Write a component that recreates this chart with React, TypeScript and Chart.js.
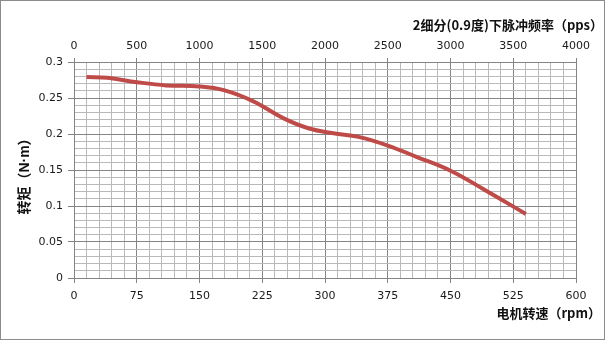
import React, { useEffect, useRef } from "react";
import { Chart, registerables } from "chart.js";

Chart.register(...registerables);

const rpm = [15, 40, 75, 110, 150, 180, 215, 250, 280, 310, 340, 375, 410, 450, 490, 540];
const torque = [0.279, 0.278, 0.272, 0.2675, 0.266, 0.2605, 0.245, 0.222, 0.208, 0.201, 0.196, 0.184, 0.168, 0.149, 0.123, 0.089];
const topTitle = "2细分(0.9度)下脉冲频率（pps）";
const bottomTitle = "电机转速（rpm）";
const leftTitle = "转矩（N·m）";

const MAJOR = "#848484";
const MINOR = "#b9b9b9";
const TEXT = "#1a1a1a";

const decor = {
  id: "decor",
  afterDraw(chart: any) {
    const { ctx, chartArea } = chart;
    ctx.save();
    ctx.strokeStyle = "#8c8c8c";
    ctx.lineWidth = 1;
    ctx.strokeRect(0.5, 0.5, 604, 339);
    ctx.fillStyle = "#111";
    ctx.font = "bold 13px 'Noto Sans CJK SC'";
    ctx.textBaseline = "middle";
    ctx.textAlign = "right";
    ctx.fillText(topTitle, chartArea.right + 27, 25);
    ctx.fillText(bottomTitle, chartArea.right + 25, 313);
    ctx.translate(25, (chartArea.top + chartArea.bottom) / 2 + 3);
    ctx.rotate(-Math.PI / 2);
    ctx.textAlign = "center";
    ctx.font = "bold 14px 'Liberation Sans', 'Noto Sans CJK SC'";
    ctx.fillText(leftTitle, 0, 0);
    ctx.restore();
  },
};

export default function App() {
  const ref = useRef<HTMLCanvasElement>(null);
  useEffect(() => {
    const isMajX = (v: number) => Math.round(v) % 75 === 0;
    const isMajY = (v: number) => Math.round(v * 100) % 5 === 0;
    const font = { family: "'DejaVu Sans'", size: 11 };
    const chart = new Chart(ref.current!, {
      type: "line",
      data: {
        datasets: [
          {
            data: rpm.map((x, i) => ({ x, y: torque[i] })),
            borderColor: "#bf4b49",
            borderWidth: 4,
            pointRadius: 0,
            tension: 0.4,
            fill: false,
          },
        ],
      },
      options: {
        animation: false,
        responsive: false,
        devicePixelRatio: 1,
        layout: { padding: { left: 0, right: 30, top: 0, bottom: 0 } },
        plugins: { legend: { display: false }, tooltip: { enabled: false } },
        scales: {
          x: {
            type: "linear",
            position: "bottom",
            min: 0,
            max: 600,
            afterFit: (s: any) => { s.height = 63; },
            ticks: {
              stepSize: 15,
              autoSkip: false,
              maxRotation: 0,
              padding: 7,
              color: TEXT,
              font,
              callback: (v: any) => (isMajX(v) ? String(v) : ""),
            },
            grid: {
              color: (c: any) => (c.tick && isMajX(c.tick.value) ? MAJOR : MINOR),
              tickColor: (c: any) => (c.tick && isMajX(c.tick.value) ? MAJOR : "rgba(0,0,0,0)"),
              tickLength: 5,
            },
            border: { color: MAJOR },
          },
          x2: {
            type: "linear",
            position: "top",
            min: 0,
            max: 4000,
            afterFit: (s: any) => { s.height = 62; },
            ticks: {
              stepSize: 500,
              autoSkip: false,
              maxRotation: 0,
              padding: 5,
              color: TEXT,
              font,
              callback: (v: any) => String(v),
            },
            grid: { drawOnChartArea: false, tickLength: 4, tickColor: MAJOR },
            border: { color: MAJOR },
          },
          y: {
            min: 0,
            max: 0.3,
            afterFit: (s: any) => { s.width = 74; },
            ticks: {
              stepSize: 0.01,
              autoSkip: false,
              padding: 5,
              color: TEXT,
              font,
              callback: (v: any) => (isMajY(v) ? String(Math.round(v * 100) / 100) : ""),
            },
            grid: {
              color: (c: any) => (c.tick && isMajY(c.tick.value) ? MAJOR : MINOR),
              tickColor: (c: any) => (c.tick && isMajY(c.tick.value) ? MAJOR : "rgba(0,0,0,0)"),
              tickLength: 6,
            },
            border: { color: MAJOR },
          },
        },
      },
      plugins: [decor],
    } as any);
    return () => chart.destroy();
  }, []);
  return (
    <div style={{ position: "absolute", left: 0, top: 0, width: 606, height: 341, background: "#fff" }}>
      <canvas ref={ref} width={606} height={341} />
    </div>
  );
}
